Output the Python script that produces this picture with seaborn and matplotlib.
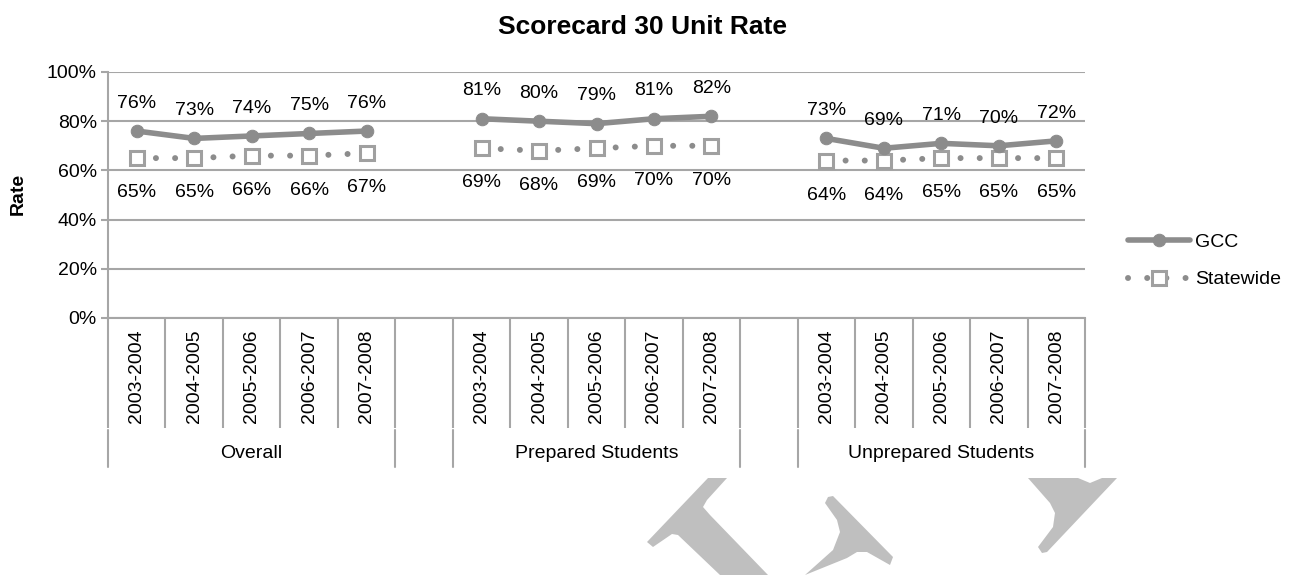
import numpy as np
import pandas as pd
import matplotlib.pyplot as plt
import matplotlib.transforms as mtransforms
from matplotlib.patches import Polygon
from matplotlib.ticker import FuncFormatter
import seaborn as sns

years = ['2003-2004', '2004-2005', '2005-2006', '2006-2007', '2007-2008']
groups = ['Overall', 'Prepared Students', 'Unprepared Students']
gcc = [[76, 73, 74, 75, 76],
       [81, 80, 79, 81, 82],
       [73, 69, 71, 70, 72]]
statewide = [[65, 65, 66, 66, 67],
             [69, 68, 69, 70, 70],
             [64, 64, 65, 65, 65]]

# one empty slot between groups, like the excel chart
slot = len(years) + 1
rows = []
for g, grp in enumerate(groups):
    for j, yr in enumerate(years):
        pos = g * slot + j
        rows.append(dict(group=grp, year=yr, pos=pos, series='GCC', rate=gcc[g][j]))
        rows.append(dict(group=grp, year=yr, pos=pos, series='Statewide', rate=statewide[g][j]))
df = pd.DataFrame(rows)

sns.set_theme(style='white')
plt.rcParams['font.family'] = ['Liberation Sans', 'DejaVu Sans']
plt.rcParams['text.color'] = 'black'
plt.rcParams['xtick.color'] = 'black'
plt.rcParams['ytick.color'] = 'black'

LINE = '#8c8c8c'
GRID = '#a6a6a6'
FS = 14

fig = plt.figure(figsize=(12.97, 5.75), dpi=100)
ax = fig.add_axes([108 / 1297, 1 - 318 / 575, (1085 - 108) / 1297, 246 / 575])

handles = {}
for grp in groups:
    sub = df[(df.group == grp) & (df.series == 'GCC')]
    sns.lineplot(data=sub, x='pos', y='rate', ax=ax, color=LINE, linewidth=4,
                 marker='o', markersize=9, markeredgecolor=LINE, legend=False, zorder=4)
    handles['GCC'] = ax.lines[-1]
    sub = df[(df.group == grp) & (df.series == 'Statewide')]
    sns.lineplot(data=sub, x='pos', y='rate', ax=ax, color=LINE, linewidth=4.3,
                 linestyle=(0, (0.01, 3.2)), marker='s', markersize=10,
                 markerfacecolor='white', markeredgecolor='#a0a0a0', markeredgewidth=2.2,
                 legend=False, zorder=3)
    ax.lines[-1].set_dash_capstyle('round')
    handles['Statewide'] = ax.lines[-1]

# data labels
for _, r in df.iterrows():
    dy = 20 if r.series == 'GCC' else -25
    ax.annotate(f'{r.rate}%', (r.pos, r.rate), xytext=(0, dy), textcoords='offset points',
                ha='center', va='center', fontsize=FS, color='black', zorder=5)

ax.set_xlim(-0.5, slot * len(groups) - 1.5)
ax.set_ylim(0, 100)
ax.set_yticks(np.arange(0, 101, 20))
ax.yaxis.set_major_formatter(FuncFormatter(lambda v, _: f'{v:.0f}%'))
ax.yaxis.grid(True, color=GRID, linewidth=1.5)
ax.set_axisbelow(True)
for s in ['top', 'right']:
    ax.spines[s].set_visible(False)
for s in ['left', 'bottom']:
    ax.spines[s].set_color(GRID)
    ax.spines[s].set_linewidth(1.5)
ax.tick_params(axis='y', length=5, width=1.5, color=GRID, labelcolor='black',
               labelsize=FS, pad=3, left=True)

ax.set_xticks(df.pos.unique())
ax.set_xticklabels(years * len(groups), rotation=90)
ax.set_xticks(np.arange(-0.5, slot * len(groups) - 1, 1), minor=True)
ax.tick_params(axis='x', which='major', length=0, labelsize=FS, labelcolor='black', pad=8)
ax.tick_params(axis='x', which='minor', length=79, width=1.5, color=GRID, bottom=True)
ax.set_xlabel('')
ax.set_ylabel('')

# second level of category axis
trans = mtransforms.blended_transform_factory(ax.transData, ax.transAxes)
y0, y1 = (318 - 430) / 246, (318 - 467) / 246
for g, grp in enumerate(groups):
    left, right = g * slot - 0.5, g * slot + len(years) - 0.5
    for xb in (left, right):
        ax.plot([xb, xb], [y0, y1], color=GRID, lw=1.5, transform=trans, clip_on=False)
    ax.text((left + right) / 2, (318 - 453) / 246, grp, transform=trans,
            ha='center', va='center', fontsize=FS, color='black')

fig.text(643 / 1297, 1 - 27 / 575, 'Scorecard 30 Unit Rate', ha='center', va='center',
         fontsize=19, fontweight='bold', color='black')
fig.text(18 / 1297, 1 - 194 / 575, 'Rate', rotation=90, ha='center', va='center',
         fontsize=FS, fontweight='bold', color='black')

leg = fig.legend([handles['GCC'], handles['Statewide']], ['GCC', 'Statewide'],
                 loc='center left', bbox_to_anchor=(1128 / 1297, 1 - 261 / 575),
                 frameon=False, fontsize=FS, handlelength=3.2, handletextpad=0.25,
                 labelspacing=1.0, borderpad=0, borderaxespad=0)
for t in leg.get_texts():
    t.set_color('black')

# light watermark fragments at the bottom of the page
marks = [
    [(708, 478), (727, 478), (707, 500), (703, 507), (710, 515), (768, 575), (720, 575),
     (678, 535), (672, 534), (653, 547), (647, 542)],
    [(828, 497), (833, 496), (893, 557), (890, 565), (867, 552), (857, 552), (847, 558),
     (805, 575), (833, 550), (840, 532), (837, 520), (825, 503)],
    [(1028, 478), (1078, 478), (1090, 483), (1102, 478), (1117, 478), (1047, 552),
     (1042, 553), (1038, 547), (1053, 527), (1055, 513), (1050, 503)],
]
for m in marks:
    pts = [(x / 1297, 1 - y / 575) for x, y in m]
    fig.add_artist(Polygon(pts, closed=True, transform=fig.transFigure,
                           facecolor='#bfbfbf', edgecolor='none'))

fig.savefig('out.png', dpi=100)
